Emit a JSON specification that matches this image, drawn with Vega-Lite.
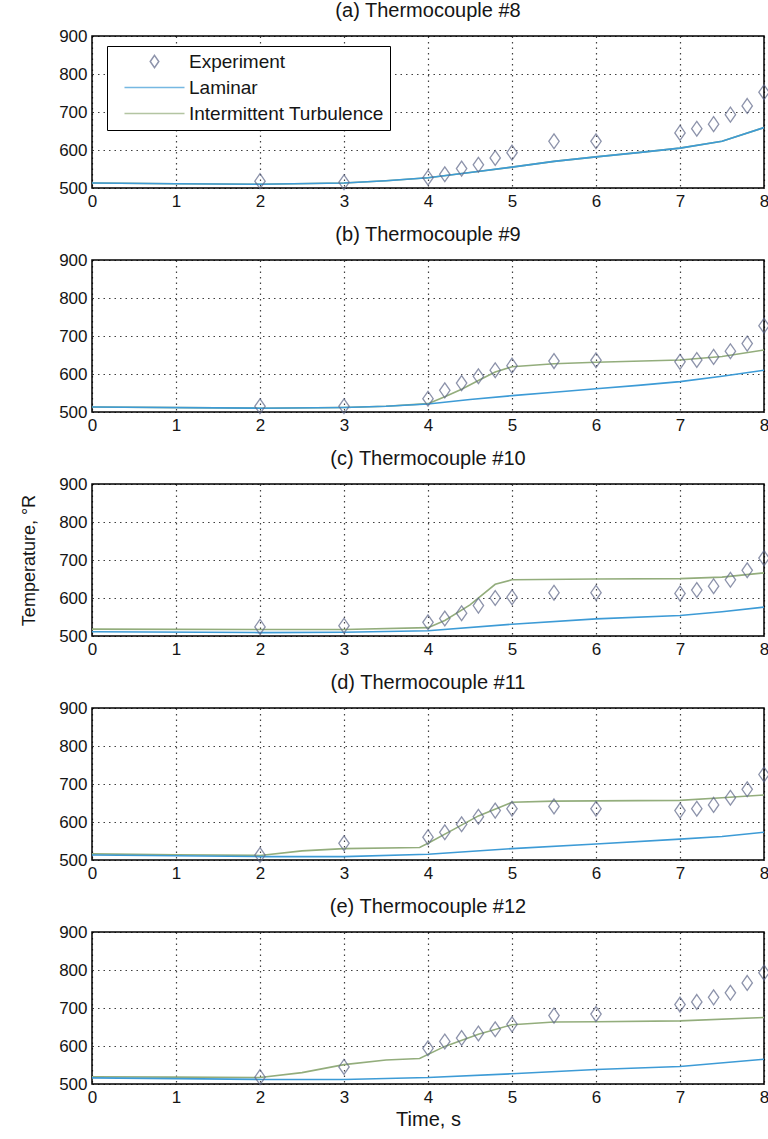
{
  "$schema": "https://vega.github.io/schema/vega-lite/v6.json",
  "background": "white",
  "padding": {"left": 19, "top": 0, "right": 0, "bottom": 0},
  "spacing": 14,
  "config": {
    "font": "Liberation Sans",
    "view": {"stroke": "#000", "strokeWidth": 1.5},
    "axis": {
      "labelFont": "Liberation Sans", "labelFontSize": 17, "labelColor": "#151515",
      "titleFont": "Liberation Sans", "titleFontSize": 18, "titleFontWeight": "normal", "titleColor": "#151515",
      "domain": false, "ticks": false, "labelPadding": 5,
      "grid": true, "gridColor": "#000", "gridDash": [1.5, 4], "gridWidth": 1.2, "gridOpacity": 0.75
    },
    "title": {"font": "Liberation Sans", "fontSize": 20, "fontWeight": "normal", "color": "#151515", "offset": 6, "frame": "group"}
  },
  "resolve": {"scale": {"color": "independent", "shape": "independent"}},
  "datasets": {
    "rows": [
      {"panel": "a", "series": "Intermittent Turbulence", "time": 0, "temp": 513},
      {"panel": "a", "series": "Intermittent Turbulence", "time": 1, "temp": 511},
      {"panel": "a", "series": "Intermittent Turbulence", "time": 2, "temp": 510},
      {"panel": "a", "series": "Intermittent Turbulence", "time": 3, "temp": 513},
      {"panel": "a", "series": "Intermittent Turbulence", "time": 3.5, "temp": 519},
      {"panel": "a", "series": "Intermittent Turbulence", "time": 4, "temp": 527},
      {"panel": "a", "series": "Intermittent Turbulence", "time": 4.5, "temp": 541},
      {"panel": "a", "series": "Intermittent Turbulence", "time": 5, "temp": 555},
      {"panel": "a", "series": "Intermittent Turbulence", "time": 5.5, "temp": 570},
      {"panel": "a", "series": "Intermittent Turbulence", "time": 6, "temp": 582},
      {"panel": "a", "series": "Intermittent Turbulence", "time": 6.5, "temp": 593},
      {"panel": "a", "series": "Intermittent Turbulence", "time": 7, "temp": 605},
      {"panel": "a", "series": "Intermittent Turbulence", "time": 7.5, "temp": 623},
      {"panel": "a", "series": "Intermittent Turbulence", "time": 8, "temp": 659},
      {"panel": "a", "series": "Laminar", "time": 0, "temp": 513},
      {"panel": "a", "series": "Laminar", "time": 1, "temp": 511},
      {"panel": "a", "series": "Laminar", "time": 2, "temp": 510},
      {"panel": "a", "series": "Laminar", "time": 3, "temp": 513},
      {"panel": "a", "series": "Laminar", "time": 3.5, "temp": 519},
      {"panel": "a", "series": "Laminar", "time": 4, "temp": 527},
      {"panel": "a", "series": "Laminar", "time": 4.5, "temp": 541},
      {"panel": "a", "series": "Laminar", "time": 5, "temp": 555},
      {"panel": "a", "series": "Laminar", "time": 5.5, "temp": 570},
      {"panel": "a", "series": "Laminar", "time": 6, "temp": 582},
      {"panel": "a", "series": "Laminar", "time": 6.5, "temp": 593},
      {"panel": "a", "series": "Laminar", "time": 7, "temp": 605},
      {"panel": "a", "series": "Laminar", "time": 7.5, "temp": 623},
      {"panel": "a", "series": "Laminar", "time": 8, "temp": 659},
      {"panel": "a", "series": "Experiment", "time": 2, "temp": 518},
      {"panel": "a", "series": "Experiment", "time": 3, "temp": 515},
      {"panel": "a", "series": "Experiment", "time": 4, "temp": 527},
      {"panel": "a", "series": "Experiment", "time": 4.2, "temp": 536},
      {"panel": "a", "series": "Experiment", "time": 4.4, "temp": 551},
      {"panel": "a", "series": "Experiment", "time": 4.6, "temp": 561},
      {"panel": "a", "series": "Experiment", "time": 4.8, "temp": 579},
      {"panel": "a", "series": "Experiment", "time": 5, "temp": 593},
      {"panel": "a", "series": "Experiment", "time": 5.5, "temp": 623},
      {"panel": "a", "series": "Experiment", "time": 6, "temp": 623},
      {"panel": "a", "series": "Experiment", "time": 7, "temp": 645},
      {"panel": "a", "series": "Experiment", "time": 7.2, "temp": 656},
      {"panel": "a", "series": "Experiment", "time": 7.4, "temp": 668},
      {"panel": "a", "series": "Experiment", "time": 7.6, "temp": 693},
      {"panel": "a", "series": "Experiment", "time": 7.8, "temp": 716},
      {"panel": "a", "series": "Experiment", "time": 8, "temp": 752},

      {"panel": "b", "series": "Intermittent Turbulence", "time": 0, "temp": 513},
      {"panel": "b", "series": "Intermittent Turbulence", "time": 2, "temp": 510},
      {"panel": "b", "series": "Intermittent Turbulence", "time": 3, "temp": 512},
      {"panel": "b", "series": "Intermittent Turbulence", "time": 3.5, "temp": 515},
      {"panel": "b", "series": "Intermittent Turbulence", "time": 4, "temp": 522},
      {"panel": "b", "series": "Intermittent Turbulence", "time": 4.2, "temp": 540},
      {"panel": "b", "series": "Intermittent Turbulence", "time": 4.4, "temp": 560},
      {"panel": "b", "series": "Intermittent Turbulence", "time": 4.6, "temp": 583},
      {"panel": "b", "series": "Intermittent Turbulence", "time": 4.8, "temp": 605},
      {"panel": "b", "series": "Intermittent Turbulence", "time": 5, "temp": 619},
      {"panel": "b", "series": "Intermittent Turbulence", "time": 5.5, "temp": 627},
      {"panel": "b", "series": "Intermittent Turbulence", "time": 6, "temp": 631},
      {"panel": "b", "series": "Intermittent Turbulence", "time": 7, "temp": 637},
      {"panel": "b", "series": "Intermittent Turbulence", "time": 7.5, "temp": 646},
      {"panel": "b", "series": "Intermittent Turbulence", "time": 8, "temp": 663},
      {"panel": "b", "series": "Laminar", "time": 0, "temp": 513},
      {"panel": "b", "series": "Laminar", "time": 2, "temp": 510},
      {"panel": "b", "series": "Laminar", "time": 3, "temp": 512},
      {"panel": "b", "series": "Laminar", "time": 3.5, "temp": 515},
      {"panel": "b", "series": "Laminar", "time": 4, "temp": 521},
      {"panel": "b", "series": "Laminar", "time": 4.5, "temp": 533},
      {"panel": "b", "series": "Laminar", "time": 5, "temp": 543},
      {"panel": "b", "series": "Laminar", "time": 5.5, "temp": 552},
      {"panel": "b", "series": "Laminar", "time": 6, "temp": 561},
      {"panel": "b", "series": "Laminar", "time": 6.5, "temp": 570},
      {"panel": "b", "series": "Laminar", "time": 7, "temp": 580},
      {"panel": "b", "series": "Laminar", "time": 7.5, "temp": 594},
      {"panel": "b", "series": "Laminar", "time": 8, "temp": 610},
      {"panel": "b", "series": "Experiment", "time": 2, "temp": 515},
      {"panel": "b", "series": "Experiment", "time": 3, "temp": 515},
      {"panel": "b", "series": "Experiment", "time": 4, "temp": 535},
      {"panel": "b", "series": "Experiment", "time": 4.2, "temp": 557},
      {"panel": "b", "series": "Experiment", "time": 4.4, "temp": 576},
      {"panel": "b", "series": "Experiment", "time": 4.6, "temp": 594},
      {"panel": "b", "series": "Experiment", "time": 4.8, "temp": 610},
      {"panel": "b", "series": "Experiment", "time": 5, "temp": 622},
      {"panel": "b", "series": "Experiment", "time": 5.5, "temp": 634},
      {"panel": "b", "series": "Experiment", "time": 6, "temp": 636},
      {"panel": "b", "series": "Experiment", "time": 7, "temp": 632},
      {"panel": "b", "series": "Experiment", "time": 7.2, "temp": 637},
      {"panel": "b", "series": "Experiment", "time": 7.4, "temp": 645},
      {"panel": "b", "series": "Experiment", "time": 7.6, "temp": 660},
      {"panel": "b", "series": "Experiment", "time": 7.8, "temp": 680},
      {"panel": "b", "series": "Experiment", "time": 8, "temp": 727},

      {"panel": "c", "series": "Intermittent Turbulence", "time": 0, "temp": 518},
      {"panel": "c", "series": "Intermittent Turbulence", "time": 2, "temp": 517},
      {"panel": "c", "series": "Intermittent Turbulence", "time": 3, "temp": 517},
      {"panel": "c", "series": "Intermittent Turbulence", "time": 4, "temp": 522},
      {"panel": "c", "series": "Intermittent Turbulence", "time": 4.2, "temp": 541},
      {"panel": "c", "series": "Intermittent Turbulence", "time": 4.5, "temp": 582},
      {"panel": "c", "series": "Intermittent Turbulence", "time": 4.8, "temp": 636},
      {"panel": "c", "series": "Intermittent Turbulence", "time": 5, "temp": 648},
      {"panel": "c", "series": "Intermittent Turbulence", "time": 6, "temp": 650},
      {"panel": "c", "series": "Intermittent Turbulence", "time": 7, "temp": 651},
      {"panel": "c", "series": "Intermittent Turbulence", "time": 7.5, "temp": 655},
      {"panel": "c", "series": "Intermittent Turbulence", "time": 8, "temp": 666},
      {"panel": "c", "series": "Laminar", "time": 0, "temp": 511},
      {"panel": "c", "series": "Laminar", "time": 2, "temp": 509},
      {"panel": "c", "series": "Laminar", "time": 3, "temp": 510},
      {"panel": "c", "series": "Laminar", "time": 4, "temp": 514},
      {"panel": "c", "series": "Laminar", "time": 5, "temp": 531},
      {"panel": "c", "series": "Laminar", "time": 6, "temp": 545},
      {"panel": "c", "series": "Laminar", "time": 7, "temp": 554},
      {"panel": "c", "series": "Laminar", "time": 7.5, "temp": 564},
      {"panel": "c", "series": "Laminar", "time": 8, "temp": 576},
      {"panel": "c", "series": "Experiment", "time": 2, "temp": 524},
      {"panel": "c", "series": "Experiment", "time": 3, "temp": 527},
      {"panel": "c", "series": "Experiment", "time": 4, "temp": 536},
      {"panel": "c", "series": "Experiment", "time": 4.2, "temp": 546},
      {"panel": "c", "series": "Experiment", "time": 4.4, "temp": 560},
      {"panel": "c", "series": "Experiment", "time": 4.6, "temp": 580},
      {"panel": "c", "series": "Experiment", "time": 4.8, "temp": 600},
      {"panel": "c", "series": "Experiment", "time": 5, "temp": 602},
      {"panel": "c", "series": "Experiment", "time": 5.5, "temp": 614},
      {"panel": "c", "series": "Experiment", "time": 6, "temp": 614},
      {"panel": "c", "series": "Experiment", "time": 7, "temp": 612},
      {"panel": "c", "series": "Experiment", "time": 7.2, "temp": 621},
      {"panel": "c", "series": "Experiment", "time": 7.4, "temp": 631},
      {"panel": "c", "series": "Experiment", "time": 7.6, "temp": 648},
      {"panel": "c", "series": "Experiment", "time": 7.8, "temp": 673},
      {"panel": "c", "series": "Experiment", "time": 8, "temp": 705},

      {"panel": "d", "series": "Intermittent Turbulence", "time": 0, "temp": 516},
      {"panel": "d", "series": "Intermittent Turbulence", "time": 1, "temp": 514},
      {"panel": "d", "series": "Intermittent Turbulence", "time": 2, "temp": 512},
      {"panel": "d", "series": "Intermittent Turbulence", "time": 2.5, "temp": 524},
      {"panel": "d", "series": "Intermittent Turbulence", "time": 3, "temp": 530},
      {"panel": "d", "series": "Intermittent Turbulence", "time": 3.9, "temp": 533},
      {"panel": "d", "series": "Intermittent Turbulence", "time": 4, "temp": 544},
      {"panel": "d", "series": "Intermittent Turbulence", "time": 4.3, "temp": 580},
      {"panel": "d", "series": "Intermittent Turbulence", "time": 4.6, "temp": 616},
      {"panel": "d", "series": "Intermittent Turbulence", "time": 5, "temp": 652},
      {"panel": "d", "series": "Intermittent Turbulence", "time": 5.5, "temp": 655},
      {"panel": "d", "series": "Intermittent Turbulence", "time": 7, "temp": 657},
      {"panel": "d", "series": "Intermittent Turbulence", "time": 7.5, "temp": 664},
      {"panel": "d", "series": "Intermittent Turbulence", "time": 8, "temp": 671},
      {"panel": "d", "series": "Laminar", "time": 0, "temp": 513},
      {"panel": "d", "series": "Laminar", "time": 2, "temp": 509},
      {"panel": "d", "series": "Laminar", "time": 3, "temp": 509},
      {"panel": "d", "series": "Laminar", "time": 4, "temp": 515},
      {"panel": "d", "series": "Laminar", "time": 5, "temp": 530},
      {"panel": "d", "series": "Laminar", "time": 6, "temp": 542},
      {"panel": "d", "series": "Laminar", "time": 7, "temp": 555},
      {"panel": "d", "series": "Laminar", "time": 7.5, "temp": 562},
      {"panel": "d", "series": "Laminar", "time": 8, "temp": 573},
      {"panel": "d", "series": "Experiment", "time": 2, "temp": 513},
      {"panel": "d", "series": "Experiment", "time": 3, "temp": 544},
      {"panel": "d", "series": "Experiment", "time": 4, "temp": 560},
      {"panel": "d", "series": "Experiment", "time": 4.2, "temp": 573},
      {"panel": "d", "series": "Experiment", "time": 4.4, "temp": 594},
      {"panel": "d", "series": "Experiment", "time": 4.6, "temp": 614},
      {"panel": "d", "series": "Experiment", "time": 4.8, "temp": 630},
      {"panel": "d", "series": "Experiment", "time": 5, "temp": 635},
      {"panel": "d", "series": "Experiment", "time": 5.5, "temp": 641},
      {"panel": "d", "series": "Experiment", "time": 6, "temp": 635},
      {"panel": "d", "series": "Experiment", "time": 7, "temp": 630},
      {"panel": "d", "series": "Experiment", "time": 7.2, "temp": 635},
      {"panel": "d", "series": "Experiment", "time": 7.4, "temp": 645},
      {"panel": "d", "series": "Experiment", "time": 7.6, "temp": 664},
      {"panel": "d", "series": "Experiment", "time": 7.8, "temp": 686},
      {"panel": "d", "series": "Experiment", "time": 8, "temp": 725},

      {"panel": "e", "series": "Intermittent Turbulence", "time": 0, "temp": 519},
      {"panel": "e", "series": "Intermittent Turbulence", "time": 1, "temp": 518},
      {"panel": "e", "series": "Intermittent Turbulence", "time": 2, "temp": 517},
      {"panel": "e", "series": "Intermittent Turbulence", "time": 2.5, "temp": 530},
      {"panel": "e", "series": "Intermittent Turbulence", "time": 3, "temp": 551},
      {"panel": "e", "series": "Intermittent Turbulence", "time": 3.5, "temp": 563},
      {"panel": "e", "series": "Intermittent Turbulence", "time": 3.9, "temp": 567},
      {"panel": "e", "series": "Intermittent Turbulence", "time": 4.2, "temp": 599},
      {"panel": "e", "series": "Intermittent Turbulence", "time": 4.6, "temp": 631},
      {"panel": "e", "series": "Intermittent Turbulence", "time": 5, "temp": 656},
      {"panel": "e", "series": "Intermittent Turbulence", "time": 5.5, "temp": 663},
      {"panel": "e", "series": "Intermittent Turbulence", "time": 6, "temp": 664},
      {"panel": "e", "series": "Intermittent Turbulence", "time": 7, "temp": 666},
      {"panel": "e", "series": "Intermittent Turbulence", "time": 8, "temp": 675},
      {"panel": "e", "series": "Laminar", "time": 0, "temp": 516},
      {"panel": "e", "series": "Laminar", "time": 2, "temp": 512},
      {"panel": "e", "series": "Laminar", "time": 3, "temp": 512},
      {"panel": "e", "series": "Laminar", "time": 4, "temp": 517},
      {"panel": "e", "series": "Laminar", "time": 5, "temp": 527},
      {"panel": "e", "series": "Laminar", "time": 6, "temp": 538},
      {"panel": "e", "series": "Laminar", "time": 7, "temp": 546},
      {"panel": "e", "series": "Laminar", "time": 8, "temp": 565},
      {"panel": "e", "series": "Experiment", "time": 2, "temp": 518},
      {"panel": "e", "series": "Experiment", "time": 3, "temp": 545},
      {"panel": "e", "series": "Experiment", "time": 4, "temp": 594},
      {"panel": "e", "series": "Experiment", "time": 4.2, "temp": 612},
      {"panel": "e", "series": "Experiment", "time": 4.4, "temp": 621},
      {"panel": "e", "series": "Experiment", "time": 4.6, "temp": 633},
      {"panel": "e", "series": "Experiment", "time": 4.8, "temp": 644},
      {"panel": "e", "series": "Experiment", "time": 5, "temp": 657},
      {"panel": "e", "series": "Experiment", "time": 5.5, "temp": 680},
      {"panel": "e", "series": "Experiment", "time": 6, "temp": 684},
      {"panel": "e", "series": "Experiment", "time": 7, "temp": 709},
      {"panel": "e", "series": "Experiment", "time": 7.2, "temp": 716},
      {"panel": "e", "series": "Experiment", "time": 7.4, "temp": 728},
      {"panel": "e", "series": "Experiment", "time": 7.6, "temp": 740},
      {"panel": "e", "series": "Experiment", "time": 7.8, "temp": 766},
      {"panel": "e", "series": "Experiment", "time": 8, "temp": 793}
    ]
  },
  "vconcat": [
    {
      "title": "(a) Thermocouple #8",
      "width": 672, "height": 152,
      "data": {"name": "rows"},
      "transform": [{"filter": "datum.panel === 'a'"}],
      "encoding": {
        "x": {"field": "time", "type": "quantitative", "scale": {"domain": [0, 8], "nice": false}, "axis": {"values": [0,1,2,3,4,5,6,7,8], "title": null, "labelFlush": false}},
        "y": {"field": "temp", "type": "quantitative", "scale": {"domain": [500, 900], "nice": false}, "axis": {"values": [500,600,700,800,900], "title": "Temperature, °R", "titleOpacity": 0, "titlePadding": 20}}
      },
      "layer": [
        {
          "transform": [{"filter": "datum.series !== 'Experiment'"}],
          "mark": {"type": "line", "strokeWidth": 1.6},
          "encoding": {
            "color": {"field": "series", "type": "nominal",
              "scale": {"domain": ["Experiment", "Laminar", "Intermittent Turbulence"], "range": ["#5d6688", "#3d9bd6", "#93ad7c"]},
              "legend": {"title": null, "orient": "none", "legendX": 15, "legendY": 10, "strokeColor": "#000", "fillColor": "#fff", "padding": 6, "labelFontSize": 19, "labelFont": "Liberation Sans", "labelColor": "#151515", "labelOffset": 25, "symbolOffset": 32, "rowPadding": 6, "symbolStrokeWidth": 1.5, "symbolSize": 150, "labelLimit": 400}
            }
          }
        },
        {
          "transform": [{"filter": "datum.series === 'Experiment'"}],
          "mark": {"type": "point", "filled": false, "size": 220, "strokeWidth": 1.3},
          "encoding": {
            "color": {"field": "series", "type": "nominal",
              "scale": {"domain": ["Experiment", "Laminar", "Intermittent Turbulence"], "range": ["#5d6688", "#3d9bd6", "#93ad7c"]},
              "legend": {"title": null, "orient": "none", "legendX": 15, "legendY": 10, "strokeColor": "#000", "fillColor": "#fff", "padding": 6, "labelFontSize": 19, "labelFont": "Liberation Sans", "labelColor": "#151515", "labelOffset": 25, "symbolOffset": 32, "rowPadding": 6, "symbolStrokeWidth": 1.5, "symbolSize": 150, "labelLimit": 400}
            },
            "shape": {"field": "series", "type": "nominal",
              "scale": {"domain": ["Experiment", "Laminar", "Intermittent Turbulence"], "range": ["M0,-1L0.7,0L0,1L-0.7,0Z", "M-4.9,0L4.9,0", "M-4.9,0L4.9,0"]},
              "legend": {"title": null, "orient": "none", "legendX": 15, "legendY": 10, "strokeColor": "#000", "fillColor": "#fff", "padding": 6, "labelFontSize": 19, "labelFont": "Liberation Sans", "labelColor": "#151515", "labelOffset": 25, "symbolOffset": 32, "rowPadding": 6, "symbolStrokeWidth": 1.5, "symbolSize": 150, "labelLimit": 400}
            }
          }
        }
      ]
    },
    {
      "title": "(b) Thermocouple #9",
      "width": 672, "height": 152,
      "data": {"name": "rows"},
      "transform": [{"filter": "datum.panel === 'b'"}],
      "encoding": {
        "x": {"field": "time", "type": "quantitative", "scale": {"domain": [0, 8], "nice": false}, "axis": {"values": [0,1,2,3,4,5,6,7,8], "title": null, "labelFlush": false}},
        "y": {"field": "temp", "type": "quantitative", "scale": {"domain": [500, 900], "nice": false}, "axis": {"values": [500,600,700,800,900], "title": "Temperature, °R", "titleOpacity": 0, "titlePadding": 20}}
      },
      "layer": [
        {
          "transform": [{"filter": "datum.series !== 'Experiment'"}],
          "mark": {"type": "line", "strokeWidth": 1.6},
          "encoding": {
            "color": {"field": "series", "type": "nominal", "scale": {"domain": ["Experiment", "Laminar", "Intermittent Turbulence"], "range": ["#5d6688", "#3d9bd6", "#93ad7c"]}, "legend": null}
          }
        },
        {
          "transform": [{"filter": "datum.series === 'Experiment'"}],
          "mark": {"type": "point", "filled": false, "size": 220, "strokeWidth": 1.3},
          "encoding": {
            "color": {"field": "series", "type": "nominal", "scale": {"domain": ["Experiment", "Laminar", "Intermittent Turbulence"], "range": ["#5d6688", "#3d9bd6", "#93ad7c"]}, "legend": null},
            "shape": {"field": "series", "type": "nominal", "scale": {"domain": ["Experiment", "Laminar", "Intermittent Turbulence"], "range": ["M0,-1L0.7,0L0,1L-0.7,0Z", "stroke", "stroke"]}, "legend": null}
          }
        }
      ]
    },
    {
      "title": "(c) Thermocouple #10",
      "width": 672, "height": 152,
      "data": {"name": "rows"},
      "transform": [{"filter": "datum.panel === 'c'"}],
      "encoding": {
        "x": {"field": "time", "type": "quantitative", "scale": {"domain": [0, 8], "nice": false}, "axis": {"values": [0,1,2,3,4,5,6,7,8], "title": null, "labelFlush": false}},
        "y": {"field": "temp", "type": "quantitative", "scale": {"domain": [500, 900], "nice": false}, "axis": {"values": [500,600,700,800,900], "title": "Temperature, °R", "titlePadding": 20}}
      },
      "layer": [
        {
          "transform": [{"filter": "datum.series !== 'Experiment'"}],
          "mark": {"type": "line", "strokeWidth": 1.6},
          "encoding": {
            "color": {"field": "series", "type": "nominal", "scale": {"domain": ["Experiment", "Laminar", "Intermittent Turbulence"], "range": ["#5d6688", "#3d9bd6", "#93ad7c"]}, "legend": null}
          }
        },
        {
          "transform": [{"filter": "datum.series === 'Experiment'"}],
          "mark": {"type": "point", "filled": false, "size": 220, "strokeWidth": 1.3},
          "encoding": {
            "color": {"field": "series", "type": "nominal", "scale": {"domain": ["Experiment", "Laminar", "Intermittent Turbulence"], "range": ["#5d6688", "#3d9bd6", "#93ad7c"]}, "legend": null},
            "shape": {"field": "series", "type": "nominal", "scale": {"domain": ["Experiment", "Laminar", "Intermittent Turbulence"], "range": ["M0,-1L0.7,0L0,1L-0.7,0Z", "stroke", "stroke"]}, "legend": null}
          }
        }
      ]
    },
    {
      "title": "(d) Thermocouple #11",
      "width": 672, "height": 152,
      "data": {"name": "rows"},
      "transform": [{"filter": "datum.panel === 'd'"}],
      "encoding": {
        "x": {"field": "time", "type": "quantitative", "scale": {"domain": [0, 8], "nice": false}, "axis": {"values": [0,1,2,3,4,5,6,7,8], "title": null, "labelFlush": false}},
        "y": {"field": "temp", "type": "quantitative", "scale": {"domain": [500, 900], "nice": false}, "axis": {"values": [500,600,700,800,900], "title": "Temperature, °R", "titleOpacity": 0, "titlePadding": 20}}
      },
      "layer": [
        {
          "transform": [{"filter": "datum.series !== 'Experiment'"}],
          "mark": {"type": "line", "strokeWidth": 1.6},
          "encoding": {
            "color": {"field": "series", "type": "nominal", "scale": {"domain": ["Experiment", "Laminar", "Intermittent Turbulence"], "range": ["#5d6688", "#3d9bd6", "#93ad7c"]}, "legend": null}
          }
        },
        {
          "transform": [{"filter": "datum.series === 'Experiment'"}],
          "mark": {"type": "point", "filled": false, "size": 220, "strokeWidth": 1.3},
          "encoding": {
            "color": {"field": "series", "type": "nominal", "scale": {"domain": ["Experiment", "Laminar", "Intermittent Turbulence"], "range": ["#5d6688", "#3d9bd6", "#93ad7c"]}, "legend": null},
            "shape": {"field": "series", "type": "nominal", "scale": {"domain": ["Experiment", "Laminar", "Intermittent Turbulence"], "range": ["M0,-1L0.7,0L0,1L-0.7,0Z", "stroke", "stroke"]}, "legend": null}
          }
        }
      ]
    },
    {
      "title": "(e) Thermocouple #12",
      "width": 672, "height": 152,
      "data": {"name": "rows"},
      "transform": [{"filter": "datum.panel === 'e'"}],
      "encoding": {
        "x": {"field": "time", "type": "quantitative", "scale": {"domain": [0, 8], "nice": false}, "axis": {"values": [0,1,2,3,4,5,6,7,8], "title": "Time, s", "titleFontSize": 20, "labelFlush": false, "titlePadding": 4}},
        "y": {"field": "temp", "type": "quantitative", "scale": {"domain": [500, 900], "nice": false}, "axis": {"values": [500,600,700,800,900], "title": "Temperature, °R", "titleOpacity": 0, "titlePadding": 20}}
      },
      "layer": [
        {
          "transform": [{"filter": "datum.series !== 'Experiment'"}],
          "mark": {"type": "line", "strokeWidth": 1.6},
          "encoding": {
            "color": {"field": "series", "type": "nominal", "scale": {"domain": ["Experiment", "Laminar", "Intermittent Turbulence"], "range": ["#5d6688", "#3d9bd6", "#93ad7c"]}, "legend": null}
          }
        },
        {
          "transform": [{"filter": "datum.series === 'Experiment'"}],
          "mark": {"type": "point", "filled": false, "size": 220, "strokeWidth": 1.3},
          "encoding": {
            "color": {"field": "series", "type": "nominal", "scale": {"domain": ["Experiment", "Laminar", "Intermittent Turbulence"], "range": ["#5d6688", "#3d9bd6", "#93ad7c"]}, "legend": null},
            "shape": {"field": "series", "type": "nominal", "scale": {"domain": ["Experiment", "Laminar", "Intermittent Turbulence"], "range": ["M0,-1L0.7,0L0,1L-0.7,0Z", "stroke", "stroke"]}, "legend": null}
          }
        }
      ]
    }
  ]
}
